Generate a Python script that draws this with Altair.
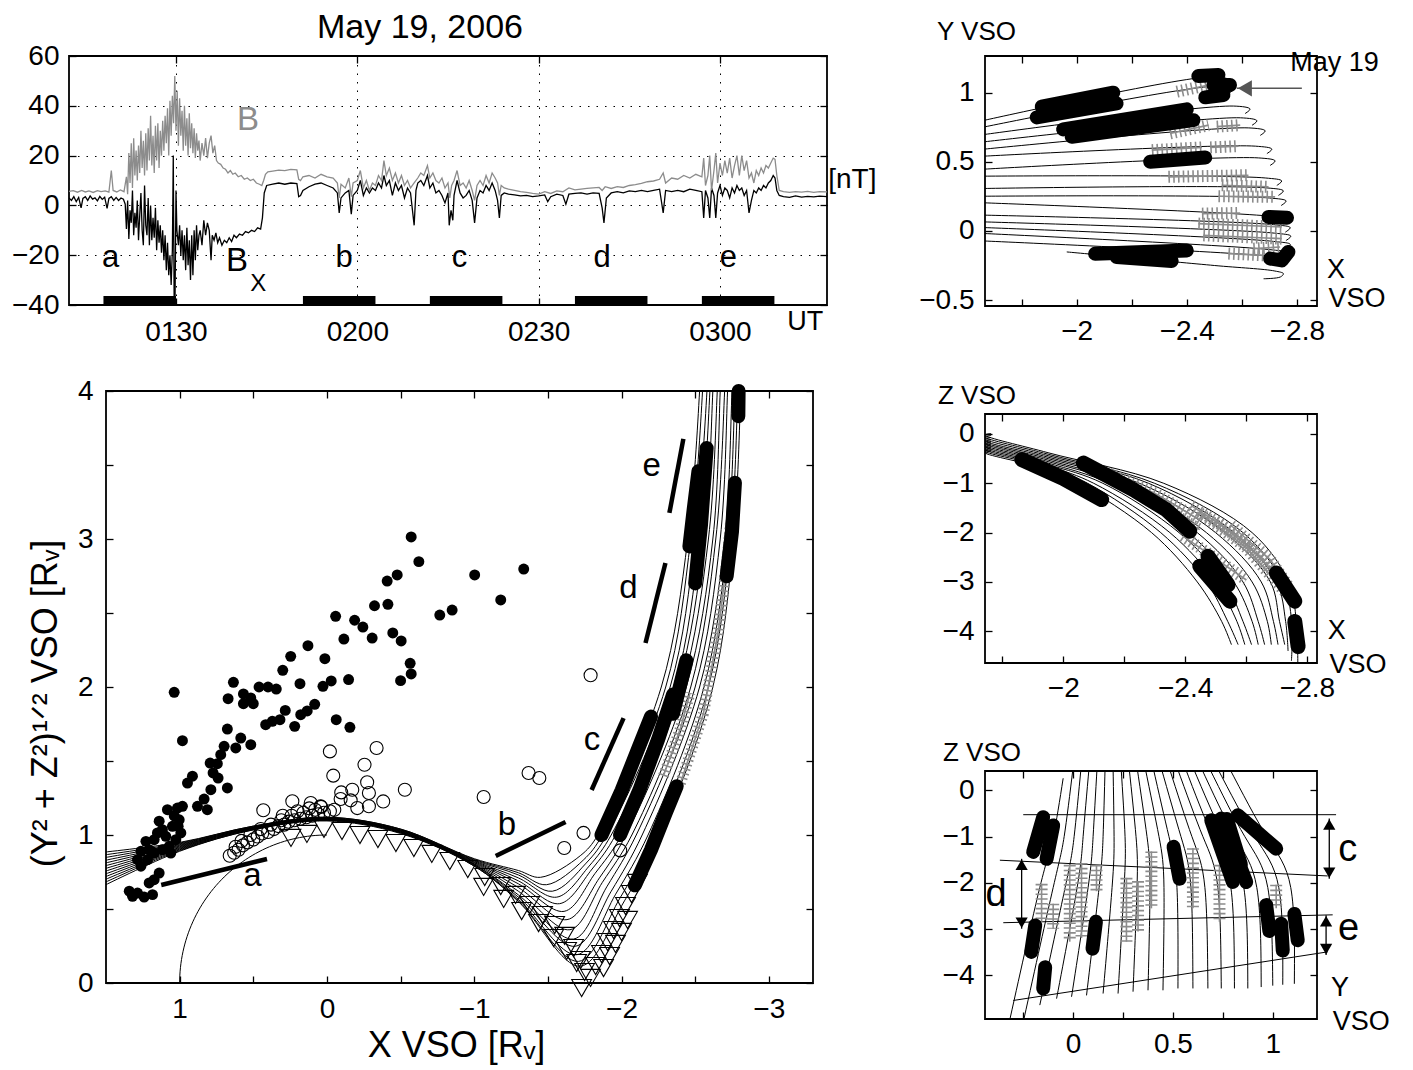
import altair as alt
import pandas as pd
import numpy as np

FONT = "Liberation Sans"
GRAY = "#8c8c8c"
TICK_IN = {"expr": "-7"}
LABEL_SIZE = 28

# ------------------------------------------------------------------ panel 1 : time series (minutes after 00 UT)
B_SERIES = [(72.3,5.6),(73.0,5.9),(73.7,5.3),(74.4,6.0),(75.0,5.4),(75.6,5.8),(76.3,5.2),(77.0,5.9),(77.6,5.5),(78.3,5.8),
 (78.9,5.3),(79.3,14.0),(79.6,6.0),(80.2,5.4),(80.8,6.2),(81.4,5.5),(81.8,11.5),(82.0,4.5),(82.2,21.0),(82.4,9.0),
 (82.6,25.0),(82.8,7.0),(83.0,27.0),(83.2,12.0),(83.4,22.0),(83.6,10.0),(83.8,24.0),(84.0,13.0),(84.2,30.0),(84.4,15.0),
 (84.6,26.0),(84.8,12.0),(85.0,29.0),(85.2,14.0),(85.4,31.0),(85.6,18.0),(85.8,36.0),(86.0,16.0),(86.2,28.0),(86.4,13.0),
 (86.6,32.0),(86.8,18.0),(87.0,33.0),(87.2,15.0),(87.4,30.0),(87.6,20.0),(87.8,34.0),(88.0,22.0),(88.2,36.0),(88.4,25.0),
 (88.6,39.0),(88.8,20.0),(89.0,42.0),(89.2,28.0),(89.4,44.0),(89.6,33.0),(89.8,52.0),(90.0,30.0),(90.2,46.0),(90.4,24.0),
 (90.6,43.0),(90.8,28.0),(91.0,38.0),(91.2,22.0),(91.4,40.0),(91.6,24.0),(91.8,35.0),(92.0,20.0),(92.2,37.0),(92.4,23.0),
 (92.6,33.0),(92.8,21.0),(93.0,31.0),(93.2,19.0),(93.4,29.0),(93.6,22.0),(93.8,26.0),(94.0,18.0),(94.3,25.0),(94.6,20.0),
 (94.9,27.0),(95.2,19.0),(95.5,25.0),(95.8,28.0),(96.1,21.0),(96.4,24.0),(96.7,18.0),(97.0,17.0),(97.4,16.5),(97.8,15.0),
 (98.2,14.5),(98.6,13.0),(99.0,14.0),(99.4,12.5),(99.8,13.0),(100.3,11.5),(100.8,12.0),(101.3,10.5),(101.8,11.0),(102.3,10.0),
 (102.8,10.5),(103.3,9.0),(103.8,8.5),(104.2,8.0),(104.5,10.0),(104.8,12.5),(105.2,13.5),(106.0,13.8),(107.0,14.2),(108.0,14.0),
 (109.0,14.5),(110.0,14.3),(110.3,10.5),(110.6,10.0),(111.0,11.5),(112.0,12.0),(113.0,11.0),(114.0,12.5),(115.0,11.5),(116.0,11.0),
 (116.7,9.0),(117.0,3.0),(117.3,8.5),(118.0,7.0),(118.6,11.0),(119.0,3.5),(119.3,9.0),(120.0,10.0),(120.5,14.0),(121.0,7.0),
 (121.5,10.0),(122.0,6.0),(122.5,9.0),(123.0,8.0),(123.5,12.0),(124.0,10.0),(124.4,18.0),(124.8,12.0),(125.3,15.0),(125.8,10.0),
 (126.3,13.0),(126.8,9.0),(127.3,12.0),(127.8,8.0),(128.3,10.0),(128.8,7.0),(129.4,9.0),(130.0,11.0),(130.5,13.0),(131.0,12.0),
 (131.6,16.0),(132.0,11.0),(132.5,13.0),(133.0,10.0),(133.5,9.0),(134.0,11.0),(134.5,7.0),(135.0,9.0),(135.3,3.0),(135.6,8.0),
 (136.0,10.0),(136.5,14.0),(137.0,8.0),(137.5,9.0),(138.0,7.0),(138.5,10.0),(139.0,6.0),(139.4,2.0),(139.8,8.0),(140.3,10.0),
 (140.8,8.0),(141.3,12.0),(141.8,9.0),(142.3,13.0),(142.8,11.0),(143.2,9.0),(143.5,4.0),(143.8,8.0),(144.3,7.0),(145.0,6.5),
 (146.0,6.0),(147.0,5.5),(148.0,5.2),(149.0,4.8),(150.0,4.5),(151.0,5.5),(152.0,4.8),(153.0,5.8),(154.0,5.5),(155.0,7.0),
 (156.0,6.2),(157.0,6.5),(158.0,6.8),(159.0,7.0),(160.0,7.2),(160.5,6.0),(161.0,7.5),(162.0,6.8),(163.0,7.5),(164.0,7.2),
 (165.0,8.0),(166.0,8.3),(167.0,8.8),(168.0,9.5),(169.0,9.8),(170.0,10.5),(170.6,13.0),(171.0,9.0),(172.0,11.0),(173.0,10.5),
 (174.0,12.0),(175.0,11.0),(176.0,12.5),(177.0,11.5),(177.3,19.0),(177.6,8.0),(178.0,12.0),(178.3,20.0),(178.6,6.0),(179.0,14.0),
 (179.3,21.0),(179.6,9.0),(180.0,17.0),(180.4,12.0),(180.8,18.0),(181.2,13.0),(181.6,19.0),(182.0,11.0),(182.4,16.0),(182.8,20.0),
 (183.2,12.0),(183.6,20.0),(184.0,14.0),(184.4,18.0),(184.8,11.0),(185.2,13.0),(185.6,9.0),(186.0,14.0),(186.4,12.0),(186.8,15.0),
 (187.2,13.0),(187.6,16.0),(188.0,15.0),(188.4,17.0),(188.8,19.0),(189.1,18.5),(189.4,12.0),(189.8,6.0),(190.5,5.5),(191.5,5.2),
 (192.5,5.5),(193.5,5.3),(194.5,5.6),(195.5,5.2),(196.5,5.5),(197.7,5.4)]

BX_SERIES = [(72.3,3.0),(72.7,2.0),(73.1,3.5),(73.5,1.5),(73.9,3.2),(74.3,-1.0),(74.6,2.8),(75.0,3.5),(75.4,2.0),(75.8,3.8),
 (76.2,2.5),(76.6,3.0),(77.0,1.8),(77.4,3.6),(77.8,2.4),(78.2,3.3),(78.6,-1.2),(78.9,2.8),(79.3,3.5),(79.7,2.0),
 (80.1,3.2),(80.5,2.0),(80.9,3.0),(81.3,2.5),(81.6,0.5),(81.8,-9.5),(82.0,2.0),(82.2,-13.5),(82.4,-2.0),(82.6,-7.0),
 (82.8,6.0),(83.0,-12.0),(83.2,-3.0),(83.4,-9.0),(83.6,2.0),(83.8,-14.0),(84.0,-4.0),(84.2,5.0),(84.4,-10.0),(84.6,-16.0),
 (84.8,8.0),(85.0,-8.0),(85.2,-12.0),(85.4,3.0),(85.6,-16.0),(85.8,0.0),(86.0,-14.0),(86.2,-5.0),(86.4,-13.0),(86.6,-1.0),
 (86.8,-18.0),(87.0,-6.0),(87.2,-15.0),(87.4,-8.0),(87.6,-19.0),(87.8,-10.0),(88.0,-22.0),(88.2,-12.0),(88.4,-26.0),(88.6,-15.0),
 (88.8,-28.0),(89.0,-20.0),(89.2,-32.0),(89.4,-18.0),(89.55,20.0),(89.7,-40.0),(89.85,-36.0),(90.0,6.0),(90.15,-10.0),(90.4,-16.0),
 (90.6,-8.0),(90.8,-20.0),(91.0,-10.0),(91.2,-22.0),(91.4,-12.0),(91.6,-26.0),(91.8,-9.0),(92.0,-24.0),(92.2,-14.0),(92.4,-30.0),
 (92.6,-12.0),(92.8,-28.0),(93.0,-10.0),(93.2,-22.0),(93.4,-8.0),(93.6,-18.0),(93.8,-12.0),(94.0,-10.0),(94.3,-16.0),(94.6,-6.0),
 (94.9,-12.0),(95.2,-7.0),(95.5,-10.0),(95.8,-22.0),(96.0,-12.0),(96.3,-14.0),(96.6,-11.0),(96.9,-15.0),(97.2,-13.0),(97.6,-16.0),
 (98.0,-14.0),(98.4,-15.0),(98.8,-13.0),(99.2,-14.5),(99.6,-12.0),(100.0,-13.0),(100.5,-11.5),(101.0,-12.0),(101.5,-10.5),(102.0,-11.0),
 (102.5,-10.0),(103.0,-10.5),(103.5,-9.0),(104.0,-9.5),(104.3,-5.0),(104.6,5.0),(105.0,8.0),(106.0,8.5),(107.0,9.0),(108.0,8.5),
 (109.0,9.0),(110.0,8.8),(110.3,3.5),(110.6,4.0),(111.0,6.0),(112.0,7.5),(113.0,8.5),(114.0,9.0),(115.0,8.0),(116.0,7.0),
 (116.7,5.0),(117.0,-3.0),(117.3,3.0),(118.0,5.0),(118.6,6.0),(119.0,-3.5),(119.3,4.0),(120.0,6.0),(120.5,10.0),(121.0,4.0),
 (121.5,7.0),(122.0,5.0),(122.5,7.0),(123.0,6.0),(123.5,9.0),(124.0,7.0),(124.4,12.0),(124.8,8.0),(125.3,10.0),(125.8,4.0),
 (126.3,9.0),(126.8,6.0),(127.3,8.0),(127.8,3.0),(128.3,7.0),(128.8,5.0),(129.4,-8.0),(129.7,6.0),(130.0,9.0),(130.5,10.0),
 (131.0,8.0),(131.6,12.0),(132.0,7.0),(132.5,9.0),(133.0,5.0),(133.5,6.0),(134.0,4.0),(134.5,1.0),(135.0,5.0),(135.2,-8.0),
 (135.5,-2.0),(135.8,-6.0),(136.0,4.0),(136.5,10.0),(137.0,5.0),(137.5,3.0),(138.0,4.0),(138.5,6.0),(139.0,2.0),(139.4,-7.0),
 (139.8,3.0),(140.3,6.0),(140.8,5.0),(141.3,8.0),(141.8,6.0),(142.3,9.0),(142.8,6.0),(143.2,2.0),(143.5,-5.0),(143.8,4.0),
 (144.3,5.0),(145.0,4.5),(146.0,4.2),(147.0,3.8),(148.0,4.0),(149.0,3.5),(150.0,3.8),(151.0,4.2),(151.5,1.5),(152.0,3.5),
 (153.0,4.5),(154.0,4.0),(154.5,0.5),(155.0,4.5),(156.0,4.8),(157.0,5.0),(158.0,4.5),(159.0,5.0),(160.0,4.8),(160.5,-1.0),
 (160.8,-7.0),(161.2,3.0),(162.0,5.0),(163.0,5.5),(164.0,5.0),(165.0,5.8),(166.0,5.5),(167.0,6.0),(168.0,5.5),(169.0,6.0),
 (170.0,6.5),(170.6,-3.0),(171.0,6.0),(172.0,5.5),(173.0,6.0),(174.0,5.5),(175.0,6.5),(176.0,6.0),(177.0,5.5),(177.3,-5.0),
 (177.6,6.0),(178.0,3.0),(178.3,-5.0),(178.6,7.0),(179.0,4.0),(179.3,-5.0),(179.6,5.0),(180.0,8.0),(180.4,4.0),(180.8,7.0),
 (181.2,6.0),(181.6,3.0),(182.0,7.0),(182.4,5.0),(182.8,8.0),(183.2,6.0),(183.6,7.0),(184.0,4.0),(184.4,6.0),(184.8,-3.0),
 (185.2,2.0),(185.6,6.0),(186.0,5.0),(186.4,7.0),(186.8,6.0),(187.2,8.0),(187.6,7.0),(188.0,9.0),(188.4,10.0),(188.8,12.0),
 (189.1,11.0),(189.4,6.0),(189.8,4.0),(190.5,3.5),(191.5,3.2),(192.5,3.8),(193.5,3.3),(194.5,3.6),(195.5,3.4),(196.5,3.7),(197.7,3.5)]

INTERVAL_START = [78, 111, 132, 156, 177]
INTERVAL_END = [90, 123, 144, 168, 189]
INTERVAL_NAME = ["a", "b", "c", "d", "e"]
INTERVAL_LABEL_T = [79.2, 117.8, 136.9, 160.5, 181.4]
UT_TICKS = [90, 120, 150, 180]
UT_TICK_TEXT = ["0130", "0200", "0230", "0300"]
NT_TICKS = [-40, -20, 0, 20, 40, 60]
NT_TICK_TEXT = ["\u221240", "\u221220", "0", "20", "40", "60"]
T_DOMAIN = [72.3, 197.7]
NT_DOMAIN = [-40, 60]

# ------------------------------------------------------------------ panel 2 : cylindrical coordinates
BL_XDOM = [-3.3, 1.5]
BL_YDOM = [0, 4]
BL_XTICKS = [1.0, 0.5, 0.0, -0.5, -1.0, -1.5, -2.0, -2.5, -3.0]
BL_XTEXT = ["1", "", "0", "", "\u22121", "", "\u22122", "", "\u22123"]
BL_YTICKS = [0, 0.5, 1, 1.5, 2, 2.5, 3, 3.5, 4]
BL_YTEXT = ["0", "", "1", "", "2", "", "3", "", "4"]

BL_STATION_X = [1.55, 1.0, 0.5, 0.0, -0.5, -1.0, -1.3]
BL_Y_AT_STATION = [
    [0.88, 0.86, 0.84, 0.82, 0.80, 0.78, 0.76, 0.74, 0.72, 0.70, 0.68, 0.66, 0.64],
    [0.95, 0.945, 0.94, 0.935, 0.93, 0.925, 0.92, 0.915, 0.91, 0.905, 0.90, 0.895, 0.89],
    [1.06, 1.06, 1.055, 1.055, 1.05, 1.05, 1.05, 1.045, 1.045, 1.04, 1.04, 1.035, 1.035],
    [1.12, 1.12, 1.115, 1.115, 1.11, 1.11, 1.11, 1.105, 1.105, 1.10, 1.10, 1.10, 1.095],
    [1.04, 1.04, 1.035, 1.035, 1.03, 1.03, 1.025, 1.025, 1.02, 1.02, 1.015, 1.015, 1.01],
    [0.84, 0.835, 0.83, 0.825, 0.82, 0.815, 0.81, 0.805, 0.80, 0.80, 0.795, 0.79, 0.79],
    [0.76, 0.745, 0.73, 0.71, 0.69, 0.67, 0.645, 0.62, 0.595, 0.58, 0.565, 0.555, 0.55],
]
BL_MIN_X = [-1.45, -1.49, -1.53, -1.56, -1.58, -1.61, -1.63, -1.65, -1.675, -1.686, -1.697, -1.708, -1.72]
BL_MIN_Y = [0.714, 0.664, 0.62, 0.58, 0.536, 0.484, 0.428, 0.36, 0.297, 0.248, 0.191, 0.146, 0.113]
BL_RISE_X = [-1.72, -1.74, -1.76, -1.78, -1.80, -1.82, -1.85, -1.87, -1.90, -1.93, -1.96, -1.99, -2.02]
BL_RISE_Y = [0.86, 0.83, 0.81, 0.79, 0.77, 0.74, 0.71, 0.68, 0.65, 0.62, 0.60, 0.575, 0.555]
BL_LEVEL_Y = [1.0, 2.0, 3.0, 4.0, 4.3]
BL_X_AT_LEVEL = [
    [-1.84, -1.87, -1.90, -1.93, -1.96, -2.00, -2.03, -2.07, -2.10, -2.14, -2.18, -2.22, -2.26],
    [-2.27, -2.30, -2.33, -2.36, -2.38, -2.41, -2.44, -2.47, -2.50, -2.53, -2.56, -2.59, -2.62],
    [-2.45, -2.47, -2.50, -2.53, -2.56, -2.59, -2.62, -2.64, -2.67, -2.70, -2.72, -2.74, -2.76],
    [-2.53, -2.55, -2.58, -2.60, -2.62, -2.65, -2.67, -2.70, -2.72, -2.75, -2.77, -2.79, -2.81],
    [-2.54, -2.56, -2.59, -2.61, -2.63, -2.66, -2.68, -2.71, -2.73, -2.76, -2.78, -2.80, -2.82],
]

BL_FILLED_X = [-0.572,-0.624,-0.477,-0.409,-0.323,-0.414,-0.766,-0.059,-0.188,-0.244,-0.115,-0.307,-0.447,-0.504,0.129,0.246,
 0.014,0.300,0.635,0.183,-0.029,-0.147,0.027,-0.50,-0.572,1.037,0.671,0.567,0.517,0.461,0.40,0.344,0.567,0.50,0.283,0.134,
 0.083,-1.336,-1.003,-1.18,-0.85,-0.565,0.178,0.319,0.371,0.416,0.219,-0.063,-0.156,0.676,0.981,0.585,0.517,0.619,0.698,
 0.721,0.793,0.744,0.773,0.739,0.676,0.913,0.947,0.788,0.834,0.812,0.879,0.981,1.015,1.083,1.037,1.003,1.010,1.049,0.992,
 1.026,1.139,1.117,1.151,1.094,1.173,1.229,1.071,1.117,1.207,1.263,1.286,1.263,1.173,1.218,1.139,1.173,1.207,1.342,1.286,
 1.320,1.241,1.184,1.060]
BL_FILLED_Y = [3.014,2.847,2.757,2.716,2.549,2.559,2.486,2.478,2.451,2.405,2.324,2.331,2.365,2.311,2.279,2.207,
 2.191,2.113,2.032,2.022,2.041,2.050,2.005,2.043,2.088,1.964,1.921,1.953,1.926,2.0,2.0,1.986,1.887,1.887,1.842,1.838,
 1.883,2.797,2.757,2.588,2.52,2.16,1.813,1.779,1.768,1.745,1.734,1.779,1.728,1.716,1.637,1.655,1.61,1.588,1.599,
 1.543,1.486,1.482,1.419,1.385,1.318,1.397,1.351,1.306,1.243,1.171,1.194,1.194,1.182,1.171,1.130,1.103,1.059,1.059,1.014,
 0.968,1.093,1.036,1.014,0.991,0.968,0.957,0.924,0.901,0.901,0.890,0.833,0.789,0.878,0.833,0.743,0.698,0.676,0.620,0.608,
 0.586,0.581,0.597,0.878]

BL_OPEN_X = [-1.79,-0.02,-0.337,-0.255,-0.043,-0.273,-0.529,-0.172,-0.097,-0.093,-0.161,-0.285,-0.382,-0.206,-0.285,
 -1.064,-1.369,-1.442,-1.742,-1.611,-1.991,0.432,0.235,0.11,0.043,
 0.66,0.63,0.60,0.62,0.57,0.54,0.58,0.50,0.47,0.52,0.44,0.40,0.45,0.36,0.33,0.38,0.29,0.26,0.31,0.22,0.18,0.24,0.14,
 0.10,0.16,0.06,0.02,0.08,-0.02,-0.05,0.04,0.12,0.20,0.30]
BL_OPEN_Y = [2.08,1.565,1.588,1.475,1.401,1.356,1.306,1.306,1.288,1.243,1.234,1.284,1.227,1.182,1.194,
 1.257,1.419,1.385,1.014,0.912,0.896,1.167,1.228,1.216,1.194,
 0.86,0.88,0.90,0.92,0.93,0.95,0.96,0.97,0.99,1.00,1.01,1.02,1.04,1.04,1.06,1.07,1.07,1.09,1.10,1.10,1.11,1.13,1.12,
 1.13,1.15,1.14,1.15,1.17,1.16,1.17,1.19,1.18,1.16,1.13]

BL_TRI_X = [0.244,0.136,0.020,-0.102,-0.224,-0.346,-0.468,-0.590,-0.712,-0.834,-0.956,-1.071,-1.180,-1.281,-1.376,-1.464,
 -1.546,-1.614,-1.675,-1.722,-1.749,-1.064,-1.2,-1.322,-1.437,-1.539,-1.627,-1.695,-1.790,-1.824,-1.864,-1.905,-1.946,
 -1.986,-2.027,-2.068,-2.108,-1.878,-1.919,-1.959,-2.0,-2.041,-1.729]
BL_TRI_Y = [0.980,1.007,1.041,1.027,1.0,0.973,0.946,0.912,0.872,0.824,0.770,0.716,0.655,0.595,0.527,0.459,
 0.392,0.318,0.236,0.155,0.074,0.649,0.568,0.486,0.405,0.304,0.216,0.135,0.034,0.115,0.196,0.277,0.358,
 0.439,0.520,0.601,0.676,0.101,0.182,0.264,0.345,0.426,-0.034]

BL_DOT_TRACKS = [
    [(-1.864, 1.0), (-2.0, 1.3), (-2.12, 1.6), (-2.2, 1.8)],
    [(-1.99, 1.0), (-2.12, 1.3), (-2.25, 1.65), (-2.35, 1.95)],
    [(-2.35, 1.82), (-2.44, 2.18)],
    [(-2.09, 0.66), (-2.2, 0.9), (-2.3, 1.15), (-2.375, 1.33)],
    [(-2.5, 2.70), (-2.54, 3.1), (-2.578, 3.615)],
    [(-2.461, 2.95), (-2.49, 3.2), (-2.522, 3.457)],
    [(-2.714, 2.748), (-2.75, 3.05), (-2.77, 3.38)],
    [(-2.793, 3.83), (-2.795, 4.0)],
]
BL_CROSS_TRACKS = [
    [(-2.40, 1.35), (-2.556, 1.82), (-2.66, 2.4), (-2.72, 2.9), (-2.74, 3.11)],
    [(-2.285, 1.40), (-2.40, 1.72), (-2.465, 1.96)],
]
BL_MARK_START = [(1.125, 0.662), (-1.146, 0.858), (-1.797, 1.304), (-2.163, 2.297), (-2.325, 3.176)]
BL_MARK_END = [(0.407, 0.838), (-1.62, 1.088), (-2.014, 1.79), (-2.298, 2.838), (-2.42, 3.676)]
BL_MARK_LABEL = [(0.506, 0.721), (-1.222, 1.07), (-1.799, 1.644), (-2.047, 2.669), (-2.205, 3.495)]
VENUS_RADIUS = 1.0

# ------------------------------------------------------------------ panel 3 : Y-X projection
R1_XDOM = [-2.873, -1.667]
R1_YDOM = [-0.543, 1.265]
R1_XTICKS = [-1.8, -2.0, -2.2, -2.4, -2.6, -2.8]
R1_XTEXT = ["", "\u22122", "", "\u22122.4", "", "\u22122.8"]
R1_YTICKS = [-0.5, 0, 0.5, 1]
R1_YTEXT = ["\u22120.5", "0", "0.5", "1"]
R1_START_X = -1.667
R1_START_Y = [0.801, 0.753, 0.698, 0.645, 0.592, 0.541, 0.447, 0.396, 0.307, 0.251, 0.203, 0.114, 0.065, 0.024, -0.019, -0.073]
R1_END_X = [-2.551, -2.569, -2.630, -2.655, -2.685, -2.709, -2.721, -2.745, -2.751, -2.761, -2.770, -2.776, -2.778, -2.776, -2.770, -2.764]
R1_END_Y = [1.111, 1.043, 0.899, 0.814, 0.741, 0.609, 0.524, 0.379, 0.307, 0.234, 0.101, 0.041, -0.020, -0.080, -0.141, -0.188]
R1_LOW_TRACK = [(-1.964, -0.152), (-2.5, -0.25), (-2.72, -0.29), (-2.751, -0.309), (-2.74, -0.333), (-2.679, -0.346)]
R1_DOT_TRACKS = [
    [(-1.855, 0.821), (-2.145, 0.922)], [(-1.873, 0.899), (-2.133, 1.0)],
    [(-1.951, 0.734), (-2.40, 0.879)], [(-1.982, 0.681), (-2.424, 0.801)],
    [(-2.267, 0.50), (-2.467, 0.531)], [(-2.442, 1.12), (-2.515, 1.128)],
    [(-2.497, 1.055), (-2.557, 1.055)], [(-2.467, 0.966), (-2.533, 0.983)],
    [(-2.697, 0.101), (-2.764, 0.096)], [(-2.703, -0.20), (-2.745, -0.213), (-2.769, -0.152)],
    [(-2.067, -0.165), (-2.40, -0.141)], [(-2.145, -0.188), (-2.345, -0.217)],
]
R1_CROSS_TRACKS = [
    [(-2.364, 1.007), (-2.479, 1.055)], [(-2.339, 0.705), (-2.479, 0.765)], [(-2.509, 0.754), (-2.594, 0.765)],
    [(-2.273, 0.584), (-2.455, 0.604)], [(-2.485, 0.604), (-2.588, 0.613)], [(-2.333, 0.391), (-2.624, 0.403)],
    [(-2.527, 0.330), (-2.697, 0.319)], [(-2.515, 0.251), (-2.721, 0.246)], [(-2.455, 0.125), (-2.594, 0.130)],
    [(-2.442, 0.053), (-2.745, 0.029)], [(-2.46, -0.032), (-2.745, -0.056)], [(-2.642, -0.128), (-2.739, -0.116)],
    [(-2.551, -0.164), (-2.685, -0.177)],
]
R1_ARROW = [(-2.818, 1.031), (-2.582, 1.031)]
R1_NOTE = ("May 19", -2.776, 1.212)
R1_AXNAME = [("X", -2.909, -0.286), ("VSO", -2.915, -0.491)]

# ------------------------------------------------------------------ panel 4 : Z-X projection
R2_XDOM = [-2.833, -1.743]
R2_YDOM = [-4.643, 0.405]
R2_XTICKS = [-1.8, -2.0, -2.2, -2.4, -2.6, -2.8]
R2_XTEXT = ["", "\u22122", "", "\u22122.4", "", "\u22122.8"]
R2_YTICKS = [-4, -3, -2, -1, 0]
R2_YTEXT = ["\u22124", "\u22123", "\u22122", "\u22121", "0"]
R2_START_X = -1.743
R2_START_Z = [-0.38, -0.35, -0.32, -0.29, -0.26, -0.23, -0.20, -0.17, -0.14, -0.10, -0.06, -0.02]
R2_Z_AT_195 = [-0.72, -0.68, -0.65, -0.62, -0.59, -0.56, -0.53, -0.50, -0.47, -0.44, -0.41, -0.38]
R2_LEVEL_Z = [-1.0, -2.0, -3.0, -3.8]
R2_X_AT_LEVEL = [
    [-2.05, -2.08, -2.10, -2.13, -2.15, -2.18, -2.20, -2.23, -2.25, -2.28, -2.30, -2.33],
    [-2.29, -2.32, -2.35, -2.38, -2.41, -2.44, -2.47, -2.50, -2.53, -2.56, -2.59, -2.62],
    [-2.44, -2.47, -2.50, -2.53, -2.56, -2.59, -2.62, -2.65, -2.68, -2.70, -2.72, -2.74],
    [-2.52, -2.54, -2.57, -2.59, -2.62, -2.64, -2.67, -2.69, -2.71, -2.73, -2.75, -2.765],
]
R2_END_X = [-2.552, -2.574, -2.596, -2.618, -2.64, -2.661, -2.683, -2.705, -2.727, -2.738, -2.749, -2.77]
R2_END_Z = [-4.27, -4.27, -4.27, -4.27, -4.27, -4.27, -4.27, -4.27, -4.27, -4.4, -4.6, -4.7]
R2_DOT_TRACKS = [
    [(-1.864, -0.52), (-2.0, -0.9), (-2.126, -1.33)],
    [(-2.066, -0.59), (-2.23, -1.13), (-2.339, -1.54), (-2.415, -1.97)],
    [(-2.448, -2.68), (-2.547, -3.39)], [(-2.475, -2.48), (-2.541, -3.06)],
    [(-2.70, -2.82), (-2.76, -3.39)], [(-2.76, -3.80), (-2.771, -4.31)],
]
R2_CROSS_TRACKS = [
    [(-2.262, -1.26), (-2.448, -1.94)], [(-2.393, -2.07), (-2.601, -2.96)],
    [(-2.448, -1.60), (-2.60, -2.3), (-2.732, -3.23)], [(-2.50, -1.75), (-2.66, -2.55)],
    [(-2.15, -0.80), (-2.30, -1.20), (-2.45, -1.75)], [(-2.42, -1.45), (-2.58, -2.10), (-2.70, -2.85)],
    [(-2.55, -1.85), (-2.68, -2.55), (-2.74, -3.10)],
]
R2_AXNAME = [("X", -2.868, -4.0), ("VSO", -2.874, -4.68)]

# ------------------------------------------------------------------ panel 5 : Z-Y projection
R3_XDOM = [-0.4415, 1.2215]
R3_YDOM = [-4.94, 0.417]
R3_XTICKS = [-0.25, 0, 0.25, 0.5, 0.75, 1.0]
R3_XTEXT = ["", "0", "", "0.5", "", "1"]
R3_YTICKS = [-4, -3, -2, -1, 0]
R3_YTEXT = ["\u22124", "\u22123", "\u22122", "\u22121", "0"]
R3_TOP_Y = [-0.05, 0.00, 0.04, 0.08, 0.12, 0.16, 0.20, 0.24, 0.28, 0.32, 0.36, 0.40, 0.44, 0.48, 0.52, 0.56, 0.60, 0.64, 0.68, 0.72, 0.78]
R3_TOP_Z = [0.26] + [0.5] * 20
R3_Y_AT_Z1 = [-0.10, -0.045, 0.005, 0.05, 0.10, 0.15, 0.205, 0.26, 0.315, 0.37, 0.43, 0.48, 0.54, 0.595, 0.65, 0.70, 0.755, 0.81, 0.86, 0.91, 0.97]
R3_Y_AT_Z2 = [-0.167, -0.10, -0.04, 0.02, 0.075, 0.13, 0.195, 0.255, 0.32, 0.385, 0.455, 0.52, 0.59, 0.66, 0.725, 0.79, 0.855, 0.92, 0.975, 1.03, 1.09]
R3_BOT_Y = [-0.317, -0.247, -0.167, -0.083, -0.008, 0.067, 0.15, 0.225, 0.30, 0.375, 0.45, 0.525, 0.60, 0.675, 0.742, 0.808, 0.875, 0.942, 1.0, 1.05, 1.108]
R3_BOT_Z = [-4.95, -4.95, -4.64, -4.50, -4.46, -4.43, -4.39, -4.39, -4.35, -4.32, -4.32, -4.28, -4.28, -4.28, -4.28, -4.28, -4.28, -4.25, -4.22, -4.20, -4.18]
R3_BOUNDARIES = [[(-0.25, -0.527), (1.317, -0.527)], [(-0.367, -1.51), (1.275, -1.85)],
                 [(-0.35, -2.86), (1.30, -2.69)], [(-0.30, -4.54), (1.275, -3.49)]]
R3_DOT_TRACKS = [
    [(-0.15, -0.58), (-0.2, -1.33)], [(-0.1, -0.76), (-0.133, -1.48)], [(-0.19, -2.92), (-0.21, -3.49)],
    [(-0.14, -3.82), (-0.15, -4.28)], [(0.114, -2.84), (0.097, -3.42)], [(0.503, -1.22), (0.533, -1.91)],
    [(0.692, -0.65), (0.80, -1.98)], [(0.742, -0.61), (0.867, -1.98)], [(0.825, -0.54), (1.017, -1.26)],
    [(0.77, -0.62), (0.84, -1.6)], [(0.967, -2.48), (0.983, -3.04)], [(1.042, -2.88), (1.05, -3.46)],
    [(1.108, -2.67), (1.125, -3.24)],
]
R3_CROSS_TRACKS = [
    [(-0.158, -2.02), (-0.158, -2.84)], [(-0.10, -2.45), (-0.10, -2.99)], [(-0.017, -1.61), (-0.017, -3.27)],
    [(0.042, -1.57), (0.042, -3.19)], [(0.117, -1.61), (0.117, -2.18)], [(0.267, -1.89), (0.267, -3.27)],
    [(0.325, -1.96), (0.325, -3.05)], [(0.392, -1.32), (0.392, -2.55)], [(0.60, -1.25), (0.60, -2.55)],
    [(0.733, -1.61), (0.733, -2.84)], [(1.017, -2.04), (1.017, -2.55)],
]
R3_ARROW_Y = [1.283, -0.258, 1.267]
R3_ARROW_TOP = [-0.61, -1.48, -2.70]
R3_ARROW_BOT = [-1.91, -2.99, -3.56]
R3_ARROW_NAME = [("c", 1.375, -1.30), ("d", -0.386, -2.27), ("e", 1.38, -2.99)]
R3_AXNAME = [("Y", 1.292, -4.26), ("VSO", 1.30, -5.0)]


# ================================================================== helpers
def sc(dom, rev=False):
    return alt.Scale(domain=dom, reverse=rev, nice=False, zero=False)


def lab_expr(vals, texts):
    e = "''"
    for v, t in zip(vals, texts):
        e = f"abs(datum.value - ({v})) < 1e-6 ? '{t}' : ({e})"
    return e


def frame(xdom, ydom, xrev, xt, xtxt, yt, ytxt, xpad=20, ypad=17, grid=False, xtitle=None, ytitle=None):
    df = pd.DataFrame({"fx": [xdom[0]], "fy": [ydom[0]]})
    common = dict(tickSize=TICK_IN, tickColor="black", tickWidth=1.3, domain=False,
                  gridColor="black", gridDash=[1.5, 7], gridWidth=1, gridOpacity=1)
    xa = dict(orient="bottom", values=xt, labelExpr=lab_expr(xt, xtxt), grid=grid, labelFontSize=LABEL_SIZE,
              labelPadding=xpad, labelFont=FONT, labelColor="black", labelFlush=False, **common)
    ya = dict(orient="left", values=yt, labelExpr=lab_expr(yt, ytxt), grid=grid, labelFontSize=LABEL_SIZE,
              labelPadding=ypad, labelFont=FONT, labelColor="black", labelFlush=False, **common)
    if xtitle:
        xa.update(xtitle)
    else:
        xa["title"] = None
    if ytitle:
        ya.update(ytitle)
    else:
        ya["title"] = None
    prim = alt.Chart(df).mark_point(opacity=0).encode(
        x=alt.X("fx:Q", scale=sc(xdom, xrev), axis=alt.Axis(**xa)),
        y=alt.Y("fy:Q", scale=sc(ydom), axis=alt.Axis(**ya)))
    mirror = alt.Chart(df).mark_point(opacity=0).encode(
        x=alt.X("fx:Q", scale=sc(xdom, xrev), axis=alt.Axis(orient="top", values=xt, labels=False, title=None, **common)),
        y=alt.Y("fy:Q", scale=sc(ydom), axis=alt.Axis(orient="right", values=yt, labels=False, title=None, **common)))
    return [prim, mirror]


def enc(xdom, ydom, xrev, xf="x", yf="y"):
    return dict(x=alt.X(f"{xf}:Q", scale=sc(xdom, xrev), axis=None),
                y=alt.Y(f"{yf}:Q", scale=sc(ydom), axis=None))


def tracks_df(tracks):
    rows = []
    for i, tr in enumerate(tracks):
        for j, (x, y) in enumerate(tr):
            rows.append({"id": i, "o": j, "x": x, "y": y})
    return pd.DataFrame(rows)


def dot_tracks(tracks, e, width=14):
    return alt.Chart(tracks_df(tracks)).mark_line(color="black", strokeWidth=width, strokeCap="round",
                                                  strokeJoin="round").encode(detail="id:N", order="o:Q", **e)


def cross_tracks(tracks, e, width=12):
    df = tracks_df(tracks)
    thick = alt.Chart(df).mark_line(color=GRAY, strokeWidth=width, strokeDash=[1.6, 3.2], strokeCap="butt").encode(
        detail="id:N", order="o:Q", **e)
    thin = alt.Chart(df).mark_line(color=GRAY, strokeWidth=1.6).encode(detail="id:N", order="o:Q", **e)
    return [thick, thin]


def texts(items, e, size, color="black", align="left", baseline="middle"):
    df = pd.DataFrame([{"t": t, "x": x, "y": y} for t, x, y in items])
    return alt.Chart(df).mark_text(font=FONT, fontSize=size, color=color, align=align, baseline=baseline).encode(
        text="t:N", **e)


# ================================================================== panel 1
e1 = enc(T_DOMAIN, NT_DOMAIN, False)
b_df = pd.DataFrame(B_SERIES, columns=["x", "y"])
bx_df = pd.DataFrame(BX_SERIES, columns=["x", "y"])
iv_df = pd.DataFrame({"x": INTERVAL_START, "x2": INTERVAL_END})
lab_df = pd.DataFrame({"x": INTERVAL_LABEL_T, "t": INTERVAL_NAME})

p1_layers = frame(T_DOMAIN, NT_DOMAIN, False, UT_TICKS, UT_TICK_TEXT, NT_TICKS, NT_TICK_TEXT,
                  xpad=20, ypad=17, grid=True)
p1_layers += [
    alt.Chart(bx_df).mark_line(color="black", strokeWidth=1.3, clip=True).encode(**e1),
    alt.Chart(b_df).mark_line(color=GRAY, strokeWidth=1.3, clip=True).encode(**e1),
    alt.Chart(iv_df).mark_rect(color="black").encode(
        x=e1["x"], x2="x2:Q",
        y=alt.datum(-40, scale=sc(NT_DOMAIN), axis=None), y2=alt.datum(-36.4)),
    alt.Chart(lab_df).mark_text(font=FONT, fontSize=31, baseline="middle").encode(
        x=e1["x"], y=alt.datum(-21, scale=sc(NT_DOMAIN), axis=None), text="t:N"),
    texts([("B", 101.9, 34.3)], e1, 33, color=GRAY, align="center"),
    texts([("B", 100.1, -22.4)], e1, 33, align="center"),
    texts([("X", 103.6, -31.5)], e1, 24, align="center"),
    texts([("[nT]", 197.9, 10.3)], e1, 28, align="left"),
    texts([("UT", 194.1, -47.0)], e1, 27, align="center"),
]
p1 = alt.layer(*p1_layers).resolve_axis(x="independent", y="independent").properties(
    width=758, height=249,
    title=alt.TitleParams("May 19,  2006", fontSize=34, font=FONT, fontWeight="normal", anchor="middle",
                          dx=-28, offset=-3, frame="group", color="black"))

# ================================================================== panel 2
e2 = enc(BL_XDOM, BL_YDOM, True)
curve_rows = []
for k in range(len(BL_MIN_X)):
    pts = [(sx, BL_Y_AT_STATION[i][k]) for i, sx in enumerate(BL_STATION_X)]
    pts += [(BL_MIN_X[k], BL_MIN_Y[k]), (BL_RISE_X[k], BL_RISE_Y[k])]
    pts += [(BL_X_AT_LEVEL[i][k], ly) for i, ly in enumerate(BL_LEVEL_Y)]
    for j, (x, y) in enumerate(pts):
        curve_rows.append({"id": k, "o": j, "x": x, "y": y})
curves2 = pd.DataFrame(curve_rows)

ang = np.linspace(0, np.pi / 2, 60)
venus_day = pd.DataFrame({"x": VENUS_RADIUS * np.cos(ang), "y": VENUS_RADIUS * np.sin(ang)})
venus_night = pd.DataFrame({"x": -VENUS_RADIUS * np.cos(ang), "y": VENUS_RADIUS * np.sin(ang), "y0": 0.0})
marks_df = pd.DataFrame([{"id": i, "o": 0, "x": s[0], "y": s[1]} for i, s in enumerate(BL_MARK_START)] +
                        [{"id": i, "o": 1, "x": s[0], "y": s[1]} for i, s in enumerate(BL_MARK_END)])

p2_layers = frame(BL_XDOM, BL_YDOM, True, BL_XTICKS, BL_XTEXT, BL_YTICKS, BL_YTEXT, xpad=19, ypad=20,
                  xtitle=dict(title="X  VSO [R\u1d65]", titleFontSize=36, titleFont=FONT, titleFontWeight="normal",
                              titleColor="black", titleX=350, titleY=73, titleBaseline="alphabetic",
                              titleAlign="center"),
                  ytitle=dict(title="(Y\u00b2 + Z\u00b2)\u00b9\u141f\u00b2  VSO  [R\u1d65]", titleFontSize=36,
                              titleFont=FONT, titleFontWeight="normal", titleColor="black", titleX=-50, titleY=312,
                              titleBaseline="alphabetic", titleAlign="center", titleAngle=270))
p2_layers += [
    alt.Chart(venus_day).mark_line(color="black", strokeWidth=1).encode(order="x:Q", **e2),
    alt.Chart(venus_night).mark_area(color="black", opacity=1).encode(
        x=e2["x"], y=e2["y"], y2="y0:Q", order="x:Q"),
    alt.Chart(curves2).mark_line(color="black", strokeWidth=1, interpolate="catmull-rom", clip=True).encode(
        detail="id:N", order="o:Q", **e2),
    alt.Chart(pd.DataFrame({"x": BL_TRI_X, "y": BL_TRI_Y})).mark_point(
        shape="triangle-down", size=390, color="black", filled=False, strokeWidth=1.1, opacity=1).encode(**e2),
    alt.Chart(pd.DataFrame({"x": BL_OPEN_X, "y": BL_OPEN_Y})).mark_point(
        shape="circle", size=170, color="black", filled=False, strokeWidth=1.1, opacity=1).encode(**e2),
    alt.Chart(pd.DataFrame({"x": BL_FILLED_X, "y": BL_FILLED_Y})).mark_point(
        shape="circle", size=120, color="black", filled=True, opacity=1).encode(**e2),
] + cross_tracks(BL_CROSS_TRACKS, e2, 11) + [
    dot_tracks(BL_DOT_TRACKS, e2, 14),
    alt.Chart(marks_df).mark_line(color="black", strokeWidth=4.5).encode(detail="id:N", order="o:Q", **e2),
    texts([(n, x, y) for n, (x, y) in zip(INTERVAL_NAME, BL_MARK_LABEL)], e2, 33, align="center"),
]
p2 = alt.layer(*p2_layers).resolve_axis(x="independent", y="independent").properties(width=707, height=592)

spacer = alt.Chart(pd.DataFrame({"s": [0]})).mark_point(opacity=0).encode(
    x=alt.X("s:Q", axis=None), y=alt.Y("s:Q", axis=None)).properties(
    width=37, height=20, view=alt.ViewBackground(strokeOpacity=0))


# ================================================================== panel 3
def small_title(t, dx):
    return alt.TitleParams(t, fontSize=26, font=FONT, fontWeight="normal", anchor="start", frame="group",
                           dx=dx, offset=4, color="black")


e3 = enc(R1_XDOM, R1_YDOM, True)
r1_rows = []
for k in range(len(R1_START_Y)):
    xe, ye = R1_END_X[k], R1_END_Y[k]
    pts = [(R1_START_X, R1_START_Y[k]), (xe + 0.06, ye + 0.004), (xe, ye - 0.018), (xe + 0.018, ye - 0.05)]
    for j, (x, y) in enumerate(pts):
        r1_rows.append({"id": k, "o": j, "x": x, "y": y})
for j, (x, y) in enumerate(R1_LOW_TRACK):
    r1_rows.append({"id": 99, "o": j, "x": x, "y": y})
r1_lines = pd.DataFrame(r1_rows)
arrow_df = pd.DataFrame({"x": [p[0] for p in R1_ARROW], "y": [p[1] for p in R1_ARROW], "o": [0, 1]})

p3_layers = frame(R1_XDOM, R1_YDOM, True, R1_XTICKS, R1_XTEXT, R1_YTICKS, R1_YTEXT, xpad=18, ypad=18)
p3_layers += [
    alt.Chart(r1_lines).mark_line(color="black", strokeWidth=1, interpolate="catmull-rom", clip=True).encode(
        detail="id:N", order="o:Q", **e3),
] + cross_tracks(R1_CROSS_TRACKS, e3, 12) + [
    dot_tracks(R1_DOT_TRACKS, e3, 14),
    alt.Chart(arrow_df).mark_line(color="#555555", strokeWidth=1.5).encode(order="o:Q", **e3),
    alt.Chart(arrow_df.iloc[[1]]).mark_point(shape="triangle-left", size=260, color="#555555", filled=True,
                                             opacity=1, xOffset=8).encode(**e3),
    texts([R1_NOTE], e3, 27),
    texts(R1_AXNAME, e3, 27),
]
p3 = alt.layer(*p3_layers).resolve_axis(x="independent", y="independent").properties(
    width=332, height=250, title=small_title("Y  VSO", -48))

# ================================================================== panel 4
e4 = enc(R2_XDOM, R2_YDOM, True)
r2_rows = []
for k in range(len(R2_START_Z)):
    pts = [(R2_START_X - 0.02, R2_START_Z[k] + 0.03), (R2_START_X, R2_START_Z[k]), (-1.95, R2_Z_AT_195[k])]
    pts += [(R2_X_AT_LEVEL[i][k], lz) for i, lz in enumerate(R2_LEVEL_Z)]
    pts += [(R2_END_X[k], R2_END_Z[k])]
    for j, (x, y) in enumerate(pts):
        r2_rows.append({"id": k, "o": j, "x": x, "y": y})
r2_lines = pd.DataFrame(r2_rows)
p4_layers = frame(R2_XDOM, R2_YDOM, True, R2_XTICKS, R2_XTEXT, R2_YTICKS, R2_YTEXT, xpad=18, ypad=18)
p4_layers += [
    alt.Chart(r2_lines).mark_line(color="black", strokeWidth=1, interpolate="catmull-rom", clip=True).encode(
        detail="id:N", order="o:Q", **e4),
] + cross_tracks(R2_CROSS_TRACKS, e4, 12) + [
    dot_tracks(R2_DOT_TRACKS, e4, 15),
    texts(R2_AXNAME, e4, 27),
]
p4 = alt.layer(*p4_layers).resolve_axis(x="independent", y="independent").properties(
    width=332, height=249, title=small_title("Z  VSO", -47))

# ================================================================== panel 5
e5 = enc(R3_XDOM, R3_YDOM, False)
r3_rows = []
for k in range(len(R3_TOP_Y)):
    pts = [(R3_TOP_Y[k], R3_TOP_Z[k]), (R3_Y_AT_Z1[k], -1.0), (R3_Y_AT_Z2[k], -2.1), (R3_BOT_Y[k], R3_BOT_Z[k])]
    for j, (x, y) in enumerate(pts):
        r3_rows.append({"id": k, "o": j, "x": x, "y": y})
r3_lines = pd.DataFrame(r3_rows)
arr_rule = pd.DataFrame({"x": R3_ARROW_Y, "y": R3_ARROW_TOP, "y2": R3_ARROW_BOT})
p5_layers = frame(R3_XDOM, R3_YDOM, False, R3_XTICKS, R3_XTEXT, R3_YTICKS, R3_YTEXT, xpad=18, ypad=18)
p5_layers += [
    alt.Chart(r3_lines).mark_line(color="black", strokeWidth=1, interpolate="natural", clip=True).encode(
        detail="id:N", order="o:Q", **e5),
    alt.Chart(tracks_df(R3_BOUNDARIES)).mark_line(color="black", strokeWidth=1).encode(
        detail="id:N", order="o:Q", **e5),
] + cross_tracks(R3_CROSS_TRACKS, e5, 12) + [
    dot_tracks(R3_DOT_TRACKS, e5, 14),
    alt.Chart(arr_rule).mark_rule(color="black", strokeWidth=1.3).encode(x=e5["x"], y=e5["y"], y2="y2:Q"),
    alt.Chart(arr_rule).mark_point(shape="triangle-up", size=150, color="black", filled=True, opacity=1,
                                   yOffset=6).encode(x=e5["x"], y=e5["y"]),
    alt.Chart(arr_rule).mark_point(shape="triangle-down", size=150, color="black", filled=True, opacity=1,
                                   yOffset=-6).encode(x=e5["x"], y=alt.Y("y2:Q", scale=sc(R3_YDOM), axis=None)),
    texts(R3_ARROW_NAME, e5, 38, align="center"),
    texts(R3_AXNAME, e5, 27),
]
p5 = alt.layer(*p5_layers).resolve_axis(x="independent", y="independent").properties(
    width=332, height=248, title=small_title("Z  VSO", -42))

# ================================================================== layout
left_col = alt.vconcat(p1, alt.hconcat(spacer, p2, spacing=0, bounds="flush"), spacing=86, bounds="flush")
right_col = alt.vconcat(p3, p4, p5, spacing=108, bounds="flush")
chart = alt.hconcat(left_col, right_col, spacing=39).properties(
    padding={"left": 2, "top": 2, "right": 2, "bottom": 2}
).configure(font=FONT).configure_view(stroke="black", strokeWidth=1.8).configure_axis(
    labelFont=FONT, titleFont=FONT, labelColor="black", titleColor="black"
).configure_title(font=FONT, fontWeight="normal", color="black")

chart.save("out.html", embed_options={"renderer": "svg", "actions": False})
